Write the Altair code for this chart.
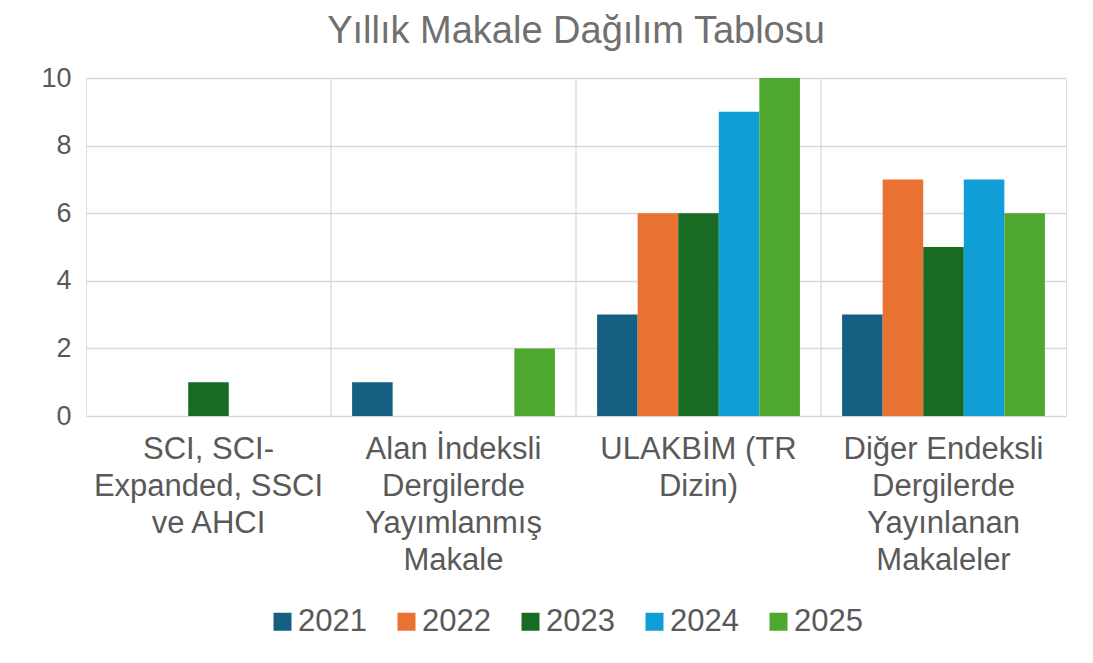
import altair as alt
import pandas as pd

categories = [
    "SCI, SCI-|Expanded, SSCI|ve AHCI",
    "Alan İndeksli|Dergilerde|Yayımlanmış|Makale",
    "ULAKBİM (TR|Dizin)",
    "Diğer Endeksli|Dergilerde|Yayınlanan|Makaleler",
]
years = ["2021", "2022", "2023", "2024", "2025"]
v2021 = [0, 1, 3, 3]
v2022 = [0, 0, 6, 7]
v2023 = [1, 0, 6, 5]
v2024 = [0, 0, 9, 7]
v2025 = [0, 2, 10, 6]
colors = ["#156082", "#E97132", "#196B24", "#0F9ED5", "#4EA72E"]
y_ticks = [0, 2, 4, 6, 8, 10]

series = [v2021, v2022, v2023, v2024, v2025]
rows = []
for y, vals in zip(years, series):
    for c, v in zip(categories, vals):
        rows.append({"cat": c, "year": y, "value": v})
df = pd.DataFrame(rows)
sep_df = pd.DataFrame({"cat": categories[1:]})

FONT = "Liberation Sans"
TXT = "#595959"

x_scale = alt.Scale(domain=categories, paddingInner=0, paddingOuter=0)

bars = alt.Chart(df).mark_bar().encode(
    x=alt.X("cat:N", scale=x_scale, sort=categories,
            axis=alt.Axis(title=None, labelAngle=0, labelExpr="split(datum.label, '|')",
                          labelFontSize=31, labelColor=TXT, labelLineHeight=37,
                          labelFont=FONT, ticks=False, domain=False, grid=False,
                          labelPadding=42, labelBaseline="alphabetic",
                          labelAlign="center", labelLimit=0)),
    xOffset=alt.XOffset("year:N", sort=years,
                        scale=alt.Scale(paddingInner=0, paddingOuter=0.52)),
    y=alt.Y("value:Q", scale=alt.Scale(domain=[0, 10]),
            axis=alt.Axis(title=None, values=y_ticks, labelFontSize=27, labelColor=TXT,
                          labelFont=FONT, ticks=False, domain=False, labelPadding=15,
                          gridColor="#d9d9d9", gridWidth=1.3)),
    color=alt.Color("year:N", sort=years,
                    scale=alt.Scale(domain=years, range=colors),
                    legend=alt.Legend(title=None, orient="none", direction="horizontal",
                                      legendX=181, legendY=528, symbolType="square",
                                      symbolSize=324, symbolStrokeWidth=0,
                                      labelFontSize=31, labelColor=TXT, labelFont=FONT,
                                      columnPadding=24, labelOffset=0, padding=0)),
)

seps = alt.Chart(sep_df).mark_rule(color="#d9d9d9", strokeWidth=1.3).encode(
    x=alt.X("cat:N", scale=x_scale, sort=categories, bandPosition=0),
)

chart = alt.layer(seps, bars).properties(
    width=980,
    height=338,
    autosize=alt.AutoSizeParams(type="none"),
    padding={"left": 78, "top": 70, "right": 19, "bottom": 239},
    title=alt.Title("Yıllık Makale Dağılım Tablosu", fontSize=38, font=FONT,
                    color="#707070", fontWeight="normal", anchor="middle", offset=13),
).configure_view(strokeWidth=0, strokeOpacity=0).configure(background="white")

chart.save("out.html", embed_options={"renderer": "svg", "actions": False})
